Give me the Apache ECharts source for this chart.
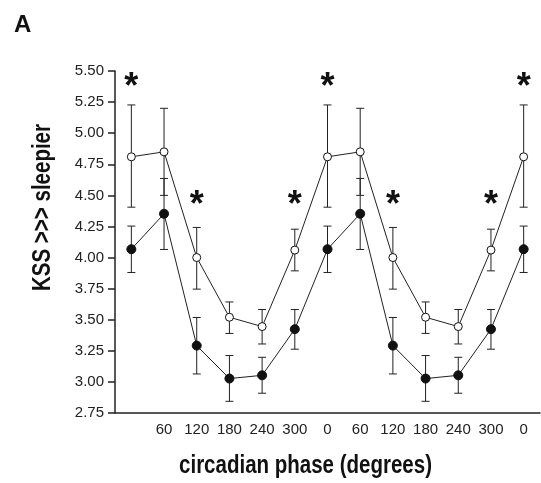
<!DOCTYPE html>
<html>
<head>
<meta charset="utf-8">
<script src="https://cdn.jsdelivr.net/npm/echarts@6/dist/echarts.min.js"></script>
<style>html,body{margin:0;padding:0;background:#fff;}#c{width:541px;height:483px;}</style>
</head>
<body>
<div id="c"></div>
<script>
var categories = ['', '60', '120', '180', '240', '300', '0', '60', '120', '180', '240', '300', '0'];
var yTicks = [2.75, 3.00, 3.25, 3.50, 3.75, 4.00, 4.25, 4.50, 4.75, 5.00, 5.25, 5.50];

var openMean = [4.81, 4.85, 4.00, 3.52, 3.445, 4.06, 4.81, 4.85, 4.00, 3.52, 3.445, 4.06, 4.81];
var openLow  = [4.405, 4.50, 3.746, 3.39, 3.305, 3.893, 4.405, 4.50, 3.746, 3.39, 3.305, 3.893, 4.405];
var openHigh = [5.227, 5.20, 4.242, 3.643, 3.582, 4.228, 5.227, 5.20, 4.242, 3.643, 3.582, 4.228, 5.227];

var filledMean = [4.067, 4.352, 3.292, 3.027, 3.053, 3.424, 4.067, 4.352, 3.292, 3.027, 3.053, 3.424, 4.067];
var filledLow  = [3.88, 4.065, 3.064, 2.844, 2.909, 3.263, 3.88, 4.065, 3.064, 2.844, 2.909, 3.263, 3.88];
var filledHigh = [4.253, 4.636, 3.518, 3.212, 3.198, 3.582, 4.253, 4.636, 3.518, 3.212, 3.198, 3.582, 4.253];

var starIndex = [0, 2, 5, 6, 8, 11, 12];
var starLevel = [5.43, 4.485, 4.485, 5.43, 4.485, 4.485, 5.43];

var FONT = '"Liberation Sans", Arial, sans-serif';

function errData(low, high) {
  return low.map(function (v, i) { return [i, v, high[i]]; });
}
function errRender(params, api) {
  var x = api.value(0);
  var lo = api.coord([x, api.value(1)]);
  var hi = api.coord([x, api.value(2)]);
  var w = 4;
  var st = { stroke: '#222', lineWidth: 1 };
  return {
    type: 'group',
    children: [
      { type: 'line', shape: { x1: lo[0], y1: lo[1], x2: hi[0], y2: hi[1] }, style: st },
      { type: 'line', shape: { x1: lo[0] - w, y1: lo[1], x2: lo[0] + w, y2: lo[1] }, style: st },
      { type: 'line', shape: { x1: hi[0] - w, y1: hi[1], x2: hi[0] + w, y2: hi[1] }, style: st }
    ]
  };
}
var starFont = 36;
function starRender(params, api) {
  var p = api.coord([api.value(0), api.value(1)]);
  return {
    type: 'text',
    x: p[0], y: p[1] + 0.24 * starFont,
    style: { text: '*', fontSize: starFont, fontWeight: 'bold', fontFamily: FONT, fill: '#111', align: 'center', verticalAlign: 'middle' }
  };
}

var chart = echarts.init(document.getElementById('c'));
chart.setOption({
  backgroundColor: '#fff',
  animation: false,
  grid: { left: 115, right: 1, top: 71, bottom: 70, containLabel: false },
  xAxis: {
    type: 'category',
    data: categories,
    boundaryGap: true,
    axisLine: { lineStyle: { color: '#222', width: 1.5 } },
    axisTick: { alignWithLabel: true, length: 7, lineStyle: { color: '#222', width: 1.5 } },
    axisLabel: { color: '#222', fontSize: 15, fontFamily: FONT, margin: 9, interval: 0 },
    splitLine: { show: false }
  },
  yAxis: {
    type: 'value',
    min: yTicks[0],
    max: yTicks[yTicks.length - 1],
    interval: 0.25,
    axisLine: { show: true, lineStyle: { color: '#222', width: 1.5 } },
    axisTick: { show: true, length: 7, lineStyle: { color: '#222', width: 1.5 } },
    axisLabel: { color: '#222', fontSize: 15, fontFamily: FONT, margin: 11, formatter: function (v) { return v.toFixed(2); } },
    splitLine: { show: false }
  },
  graphic: [
    { type: 'text', x: 14, y: 25, style: { text: 'A', fontSize: 24, fontWeight: 'bold', fontFamily: FONT, fill: '#111', align: 'left', verticalAlign: 'middle' } },
    { type: 'text', x: 305.5, y: 466.3, scaleX: 0.82, style: { text: 'circadian phase (degrees)', fontSize: 25, fontWeight: 'bold', fontFamily: FONT, fill: '#111', align: 'center', verticalAlign: 'middle' } },
    { type: 'text', x: 43, y: 207.5, rotation: Math.PI / 2, scaleX: 0.82, style: { text: 'KSS >>> sleepier', fontSize: 25, fontWeight: 'bold', fontFamily: FONT, fill: '#111', align: 'center', verticalAlign: 'middle' } }
  ],
  series: [
    { type: 'custom', renderItem: errRender, data: errData(openLow, openHigh), z: 1, silent: true },
    { type: 'custom', renderItem: errRender, data: errData(filledLow, filledHigh), z: 1, silent: true },
    {
      type: 'line', data: filledMean, z: 3,
      symbol: 'circle', symbolSize: 9,
      lineStyle: { color: '#222', width: 1 },
      itemStyle: { color: '#111', borderColor: '#111', borderWidth: 1 }
    },
    {
      type: 'line', data: openMean, z: 4,
      symbol: 'circle', symbolSize: 8,
      lineStyle: { color: '#222', width: 1 },
      itemStyle: { color: '#fff', borderColor: '#111', borderWidth: 1 }
    },
    {
      type: 'custom', renderItem: starRender, z: 5, silent: true,
      data: starIndex.map(function (x, i) { return [x, starLevel[i]]; })
    }
  ]
});
</script>
</body>
</html>
